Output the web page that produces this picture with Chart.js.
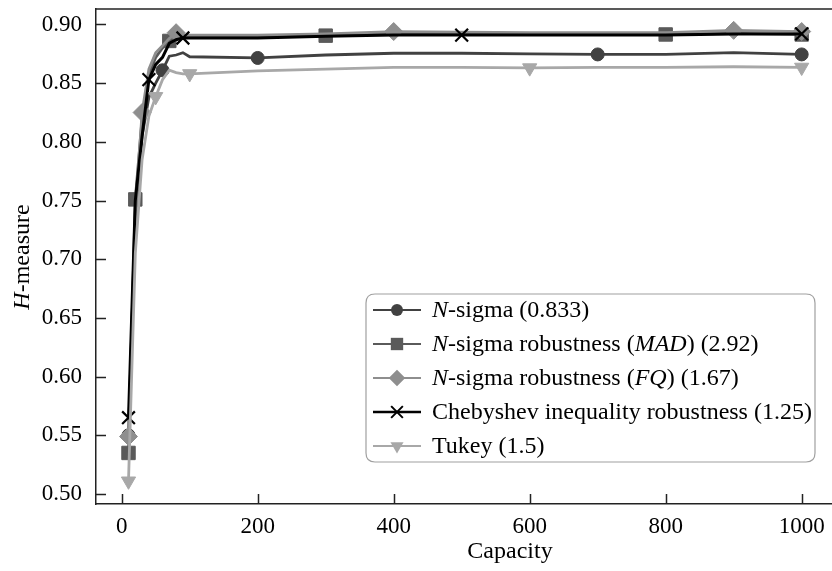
<!DOCTYPE html>
<html>
<head>
<meta charset="utf-8">
<script src="https://cdn.jsdelivr.net/npm/chart.js@4/dist/chart.umd.min.js"></script>
<style>
  html, body { margin: 0; padding: 0; background: #fff; }
  #wrap { width: 832px; height: 571px; position: relative; }
</style>
</head>
<body>
<div id="wrap"><canvas id="c" width="832" height="571"></canvas></div>
<script>
// ---- data ----
const capacity = [10, 20, 30, 40, 50, 60, 70, 80, 90, 100, 200, 300, 400, 500, 600, 700, 800, 900, 1000];

const nSigma    = [0.550, 0.735, 0.805, 0.838, 0.850, 0.861, 0.873, 0.874, 0.876, 0.8725, 0.8715, 0.874, 0.8755, 0.8755, 0.875, 0.8745, 0.8745, 0.876, 0.8745];
const nSigmaMAD = [0.535, 0.751, 0.820, 0.858, 0.872, 0.880, 0.886, 0.889, 0.8905, 0.8905, 0.8905, 0.8905, 0.892, 0.892, 0.892, 0.892, 0.8915, 0.8925, 0.8915];
const nSigmaFQ  = [0.549, 0.740, 0.825, 0.862, 0.876, 0.882, 0.888, 0.893, 0.891, 0.891, 0.891, 0.892, 0.894, 0.8935, 0.893, 0.893, 0.893, 0.895, 0.894];
const chebyshev = [0.565, 0.750, 0.805, 0.853, 0.866, 0.872, 0.884, 0.887, 0.8885, 0.8885, 0.8885, 0.890, 0.891, 0.891, 0.891, 0.891, 0.891, 0.892, 0.892];
const tukey     = [0.511, 0.705, 0.785, 0.822, 0.8385, 0.853, 0.861, 0.859, 0.858, 0.858, 0.8605, 0.862, 0.8635, 0.8635, 0.863, 0.8635, 0.8635, 0.864, 0.8635];

const xTicks = [0, 200, 400, 600, 800, 1000];
const yTicks = [0.50, 0.55, 0.60, 0.65, 0.70, 0.75, 0.80, 0.85, 0.90];

// legend labels: [text, italic?] segments
const legendLabels = [
  [["N", true], ["-sigma (0.833)", false]],
  [["N", true], ["-sigma robustness (", false], ["MAD", true], [") (2.92)", false]],
  [["N", true], ["-sigma robustness (", false], ["FQ", true], [") (1.67)", false]],
  [["Chebyshev inequality robustness (1.25)", false]],
  [["Tukey (1.5)", false]]
];
const yTitle = [["H", true], ["-measure", false]];
const xTitle = "Capacity";

// ---- styles ----
const FAMILY = "'Liberation Serif', 'Times New Roman', Times, serif";
const styles = [
  { color: '#414141', point: 'circle',   radius: 6.5, rot: 0,   marks: [0, 5, 10, 15, 18], lw: 2.8, order: 5 },
  { color: '#5a5a5a', point: 'rect',     radius: 9.5, rot: 0,   marks: [0, 1, 6, 11, 16, 18], lw: 2.8, order: 4 },
  { color: '#8e8e8e', point: 'rectRot',  radius: 9,   rot: 0,   marks: [0, 2, 7, 12, 17, 18], lw: 2.8, order: 3 },
  { color: '#000000', point: 'crossRot', radius: 9,   rot: 0,   marks: [0, 3, 8, 13, 18], lw: 3, order: 2 },
  { color: '#a8a8a8', point: 'triangle', radius: 8.2, rot: 180, marks: [0, 4, 9, 14, 18], lw: 2.8, order: 1 }
];
const seriesData = [nSigma, nSigmaMAD, nSigmaFQ, chebyshev, tukey];

function drawMarker(ctx, style, x, y, r, rot, color) {
  ctx.save();
  ctx.fillStyle = color; ctx.strokeStyle = color;
  ctx.beginPath();
  if (style === 'circle') {
    ctx.arc(x, y, r, 0, Math.PI * 2); ctx.fill();
  } else if (style === 'rect') {
    const s = Math.SQRT1_2 * r; ctx.rect(x - s, y - s, 2 * s, 2 * s); ctx.fill();
  } else if (style === 'rectRot') {
    ctx.moveTo(x - r, y); ctx.lineTo(x, y - r); ctx.lineTo(x + r, y); ctx.lineTo(x, y + r); ctx.closePath(); ctx.fill();
  } else if (style === 'crossRot') {
    const o = Math.SQRT1_2 * r; ctx.lineWidth = 2;
    ctx.moveTo(x - o, y - o); ctx.lineTo(x + o, y + o); ctx.moveTo(x + o, y - o); ctx.lineTo(x - o, y + o); ctx.stroke();
  } else if (style === 'triangle') {
    const a = rot * Math.PI / 180;
    for (let k = 0; k < 3; k++) {
      const t = a + k * 2 * Math.PI / 3;
      const px = x + Math.sin(t) * r, py = y - Math.cos(t) * r;
      if (k === 0) ctx.moveTo(px, py); else ctx.lineTo(px, py);
    }
    ctx.closePath(); ctx.fill();
  }
  ctx.restore();
}

function drawSegments(ctx, segs, x, y, size) {
  let cx = x;
  segs.forEach(([t, it]) => {
    ctx.font = (it ? 'italic ' : '') + size + 'px ' + FAMILY;
    ctx.fillText(t, cx, y);
    cx += ctx.measureText(t).width;
  });
  return cx - x;
}
function segWidth(ctx, segs, size) {
  let w = 0;
  segs.forEach(([t, it]) => { ctx.font = (it ? 'italic ' : '') + size + 'px ' + FAMILY; w += ctx.measureText(t).width; });
  return w;
}

const decor = {
  id: 'decor',
  afterDraw(chart) {
    const ctx = chart.ctx, a = chart.chartArea;
    const xs = chart.scales.x, ys = chart.scales.y;
    ctx.save();
    // top frame line
    ctx.strokeStyle = '#222'; ctx.lineWidth = 1.5;
    ctx.beginPath(); ctx.moveTo(a.left, a.top); ctx.lineTo(a.right, a.top); ctx.stroke();
    // inward ticks
    ctx.beginPath();
    yTicks.forEach(v => { const py = Math.round(ys.getPixelForValue(v)) + 0.5; ctx.moveTo(a.left, py); ctx.lineTo(a.left + 10, py); });
    xTicks.forEach(v => { const px = Math.round(xs.getPixelForValue(v)) + 0.5; ctx.moveTo(px, a.bottom); ctx.lineTo(px, a.bottom - 10); });
    ctx.stroke();

    // legend
    const L = 366, T = 294, R = 815, B = 462, rad = 9;
    ctx.beginPath();
    ctx.moveTo(L + rad, T); ctx.lineTo(R - rad, T); ctx.quadraticCurveTo(R, T, R, T + rad);
    ctx.lineTo(R, B - rad); ctx.quadraticCurveTo(R, B, R - rad, B);
    ctx.lineTo(L + rad, B); ctx.quadraticCurveTo(L, B, L, B - rad);
    ctx.lineTo(L, T + rad); ctx.quadraticCurveTo(L, T, L + rad, T); ctx.closePath();
    ctx.fillStyle = 'rgba(255,255,255,0.9)'; ctx.fill();
    ctx.strokeStyle = '#a0a0a0'; ctx.lineWidth = 1.2; ctx.stroke();
    ctx.textBaseline = 'middle'; ctx.textAlign = 'left'; ctx.fillStyle = '#000';
    legendLabels.forEach((segs, i) => {
      const s = styles[i];
      const y = 310 + i * 34;
      ctx.strokeStyle = s.color; ctx.lineWidth = s.lw * 0.8;
      ctx.beginPath(); ctx.moveTo(373, y); ctx.lineTo(421, y); ctx.stroke();
      drawMarker(ctx, s.point, 397, y, s.radius * 0.92, s.rot, s.color);
      ctx.fillStyle = '#000';
      drawSegments(ctx, segs, 432, y + 1, 24);
    });

    // x title
    ctx.textAlign = 'left';
    ctx.font = '24px ' + FAMILY;
    const xw = ctx.measureText(xTitle).width;
    ctx.fillText(xTitle, 510 - xw / 2, 552);

    // y title (rotated)
    ctx.translate(23, 257);
    ctx.rotate(-Math.PI / 2);
    const w = segWidth(ctx, yTitle, 24);
    drawSegments(ctx, yTitle, -w / 2, 0, 24);
    ctx.restore();
  }
};

function build() {
  const datasets = seriesData.map((vals, i) => {
    const s = styles[i];
    return {
      label: legendLabels[i].map(p => p[0]).join(''),
      data: capacity.map((c, k) => ({ x: c, y: vals[k] })),
      borderColor: s.color,
      backgroundColor: s.color,
      borderWidth: s.lw,
      pointStyle: s.point,
      pointRotation: s.rot,
      pointBackgroundColor: s.color,
      pointBorderColor: s.color,
      pointBorderWidth: s.point === 'crossRot' ? 2.2 : 1,
      pointRadius: ctx => s.marks.includes(ctx.dataIndex) ? s.radius : 0,
      pointHoverRadius: ctx => s.marks.includes(ctx.dataIndex) ? s.radius : 0,
      tension: 0,
      order: s.order,
      clip: false
    };
  });

  new Chart(document.getElementById('c'), {
    type: 'line',
    data: { datasets },
    options: {
      responsive: false,
      animation: false,
      events: [],
      layout: { autoPadding: false, padding: { left: 0, right: 0, top: 9, bottom: 0 } },
      plugins: { legend: { display: false }, tooltip: { enabled: false } },
      scales: {
        x: {
          type: 'linear',
          min: -37.8,
          max: 1044.6,
          afterFit: s => { s.height = 67; s.paddingLeft = 0; s.paddingRight = 0; },
          afterBuildTicks: s => { s.ticks = xTicks.map(v => ({ value: v })); },
          ticks: { font: { family: FAMILY, size: 23 }, color: '#000', padding: 9, maxRotation: 0, autoSkip: false, callback: v => String(v) },
          grid: { drawOnChartArea: false, drawTicks: false },
          border: { display: true, color: '#222', width: 1.5 }
        },
        y: {
          type: 'linear',
          min: 0.4915,
          max: 0.9132,
          afterFit: s => { s.width = 96; s.paddingTop = 0; s.paddingBottom = 0; },
          afterBuildTicks: s => { s.ticks = yTicks.map(v => ({ value: v })); },
          ticks: { font: { family: FAMILY, size: 23 }, color: '#000', padding: 14, callback: v => Number(v).toFixed(2), autoSkip: false },
          grid: { drawOnChartArea: false, drawTicks: false },
          border: { display: true, color: '#222', width: 1.5 }
        }
      }
    },
    plugins: [decor]
  });
}

const loads = document.fonts && document.fonts.load
  ? Promise.all([
      document.fonts.load("23px 'Liberation Serif'"),
      document.fonts.load("italic 23px 'Liberation Serif'")
    ]).catch(() => {})
  : Promise.resolve();
loads.then(build, build);
</script>
</body>
</html>
